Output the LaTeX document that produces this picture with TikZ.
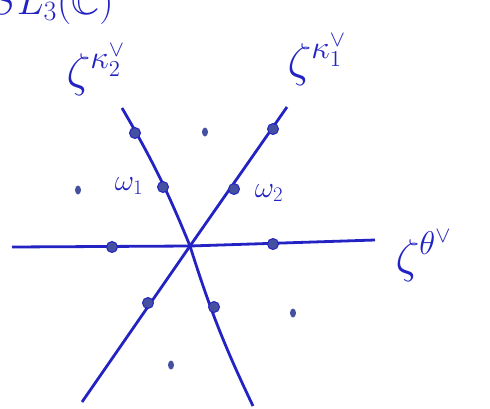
\documentclass[tikz,border=0pt]{standalone}
\usepackage{amsmath,amssymb}
\usepackage{tikz}
\usetikzlibrary{shapes.geometric}
\definecolor{ink}{RGB}{35,35,195}
\definecolor{blot}{RGB}{70,80,160}

\begin{document}
\begin{tikzpicture}[x=1pt,y=-1pt,ink,line width=2.8pt,
	wt/.style={circle,fill=blot,draw=ink,line width=1pt,inner sep=0pt,minimum size=11pt},
	sm/.style={ellipse,fill=blot,inner sep=0pt,minimum width=6pt,minimum height=9pt},
	lab/.style={font=\fontsize{24}{28}\selectfont,scale=1.9,inner sep=0pt},
	wlab/.style={font=\fontsize{24}{28}\selectfont,scale=1.2}]
	\useasboundingbox (0,0) rectangle (490,408);
	\coordinate (o) at (190,246);
	\coordinate (hL) at (12,247);  \coordinate (hR) at (375,240);
	\coordinate (aT) at (287,107); \coordinate (aB) at (82,402);
	\coordinate (bT) at (122,108); \coordinate (bB) at (253,406);
	\draw (hL) -- (o) -- (hR);
	\draw (aB) -- (o) -- (aT);
	\draw (bT) to[bend left=4] (o) to[bend right=4] (bB);
	\node[wt] (b1) at (135,133) {};
	\node[wt] (w1dot) at (163,187) {};
	\node[wt] (a1) at (273,129) {};
	\node[wt] (w2dot) at (234,189) {};
	\node[wt] (h1) at (112,247) {};
	\node[wt] (h2) at (273,244) {};
	\node[wt] (a2) at (148,303) {};
	\node[wt] (b2) at (214,307) {};
	\node[sm] (p1) at (205,132) {};
	\node[sm] (p2) at (78,190) {};
	\node[sm] (p3) at (293,313) {};
	\node[sm] (p4) at (171,365) {};
	\node[wlab] (w1) at (129,186) {$\omega_1$};
	\node[wlab] (w2) at (269,193) {$\omega_2$};
	\node[lab,anchor=base west] (zk2) at (64,86) {$\zeta^{\kappa_2^\vee}$};
	\node[lab,anchor=base west] (zk1) at (285,76) {$\zeta^{\kappa_1^\vee}$};
	\node[lab,anchor=base west] (zth) at (393,272) {$\zeta^{\theta^\vee}$};
	\node[lab,scale=0.85,anchor=base west] (sl) at (-12,14) {$SL_3(\mathbb{C})$};
\end{tikzpicture}
\end{document}
